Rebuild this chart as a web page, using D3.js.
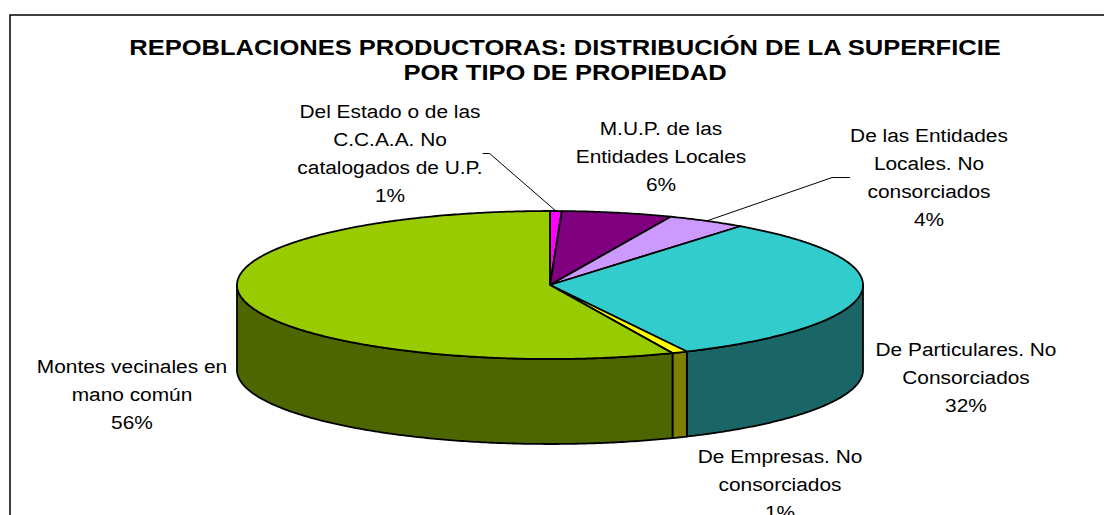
<!DOCTYPE html>
<html>
<head>
<meta charset="utf-8">
<script src="https://cdn.jsdelivr.net/npm/d3@7.9.0/dist/d3.min.js"></script>
<style>
  body { margin: 0; background: #fff; }
  svg { display: block; font-family: "Liberation Sans", Arial, sans-serif; }
</style>
</head>
<body>
<svg id="chart" width="1104" height="515"></svg>
<script>
// data
const titleLines = ["REPOBLACIONES PRODUCTORAS: DISTRIBUCIÓN DE LA SUPERFICIE", "POR TIPO DE PROPIEDAD"];
const categories = [
  "Del Estado o de las\nC.C.A.A. No\ncatalogados de U.P.",
  "M.U.P. de las\nEntidades Locales",
  "De las Entidades\nLocales. No\nconsorciados",
  "De Particulares. No\nConsorciados",
  "De Empresas. No\nconsorciados",
  "Montes vecinales en\nmano común"
];
const shares = [0.6, 5.7, 4.1, 32.4, 0.8, 56.4];
const topColors = ["#FF00FF", "#800080", "#CC99FF", "#33CCCC", "#FFFF00", "#99CC00"];

// layout
const cx = 550, cy = 285, rx = 313, ry = 74, depth = 85;
const stretch = 1.16;
const labelPos = [[390, 118], [661, 135], [929, 142], [966, 356], [780, 463], [132, 373]];
const leaders = { 0: { side: "right", elbow: 7 }, 2: { side: "left", elbow: 18 } };
const lineGap = 28;

const svg = d3.select("#chart");

svg.append("rect")
  .attr("x", 10).attr("y", 15)
  .attr("width", 1300).attr("height", 700)
  .attr("fill", "#fff")
  .attr("stroke", "#000")
  .attr("stroke-width", 1.5);

// title
titleLines.forEach((t, i) => {
  svg.append("text")
    .attr("transform", `translate(565,${55 + i * 25}) scale(${stretch},1)`)
    .attr("text-anchor", "middle")
    .style("font-size", "22px")
    .style("font-weight", "bold")
    .text(t);
});

const total = d3.sum(shares);
const pct = d3.format(".0%");
const pie = d3.pie().sort(null).value(d => d);
const arcs = pie(shares);

const pt = (a, dy = 0) => [cx + rx * Math.sin(a), cy - ry * Math.cos(a) + dy];
const sample = (a0, a1) => {
  const n = Math.max(2, Math.ceil(Math.abs(a1 - a0) / 0.01));
  return d3.range(n + 1).map(i => a0 + (a1 - a0) * i / n);
};
const line = d3.line();

const sideColor = c => {
  const col = d3.rgb(c);
  return d3.rgb(col.r * 0.5, col.g * 0.5, col.b * 0.5).formatHex();
};

// side walls (front half only)
const walls = svg.append("g");
arcs.forEach((d, i) => {
  const a0 = Math.max(d.startAngle, Math.PI / 2);
  const a1 = Math.min(d.endAngle, 3 * Math.PI / 2);
  if (a1 <= a0) return;
  const topPts = sample(a0, a1).map(a => pt(a));
  const botPts = sample(a1, a0).map(a => pt(a, depth));
  walls.append("path")
    .attr("d", line(topPts.concat(botPts)) + "Z")
    .attr("fill", sideColor(topColors[i]))
    .attr("stroke", "#000")
    .attr("stroke-width", 1.8)
    .attr("stroke-linejoin", "round");
});

// top faces
const tops = svg.append("g");
arcs.forEach((d, i) => {
  const pts = [[cx, cy]].concat(sample(d.startAngle, d.endAngle).map(a => pt(a)));
  tops.append("path")
    .attr("d", line(pts) + "Z")
    .attr("fill", topColors[i])
    .attr("stroke", "#000")
    .attr("stroke-width", 1.8)
    .attr("stroke-linejoin", "round");
});

// labels
const labels = svg.append("g").style("font-size", "18px").attr("fill", "#000");
arcs.forEach((d, i) => {
  const lines = categories[i].split("\n").concat([pct(d.value / total)]);
  const [lx, ly] = labelPos[i];
  const g = labels.append("g")
    .attr("transform", `translate(${lx},${ly}) scale(${stretch},1)`);
  const txt = g.append("text").attr("text-anchor", "middle");
  lines.forEach((s, k) => {
    txt.append("tspan").attr("x", 0).attr("y", k * lineGap).text(s);
  });

  const lead = leaders[i];
  if (lead) {
    const b = txt.node().getBBox();
    const ex = lx + (lead.side === "right" ? (b.x + b.width) : b.x) * stretch;
    const ey = ly + b.y + b.height / 2;
    const kx = ex + (lead.side === "right" ? lead.elbow : -lead.elbow);
    const mid = (d.startAngle + d.endAngle) / 2;
    const tip = pt(mid);
    svg.append("path")
      .attr("d", line([[ex, ey], [kx, ey], tip]))
      .attr("fill", "none")
      .attr("stroke", "#000")
      .attr("stroke-width", 1);
  }
});
</script>
</body>
</html>
